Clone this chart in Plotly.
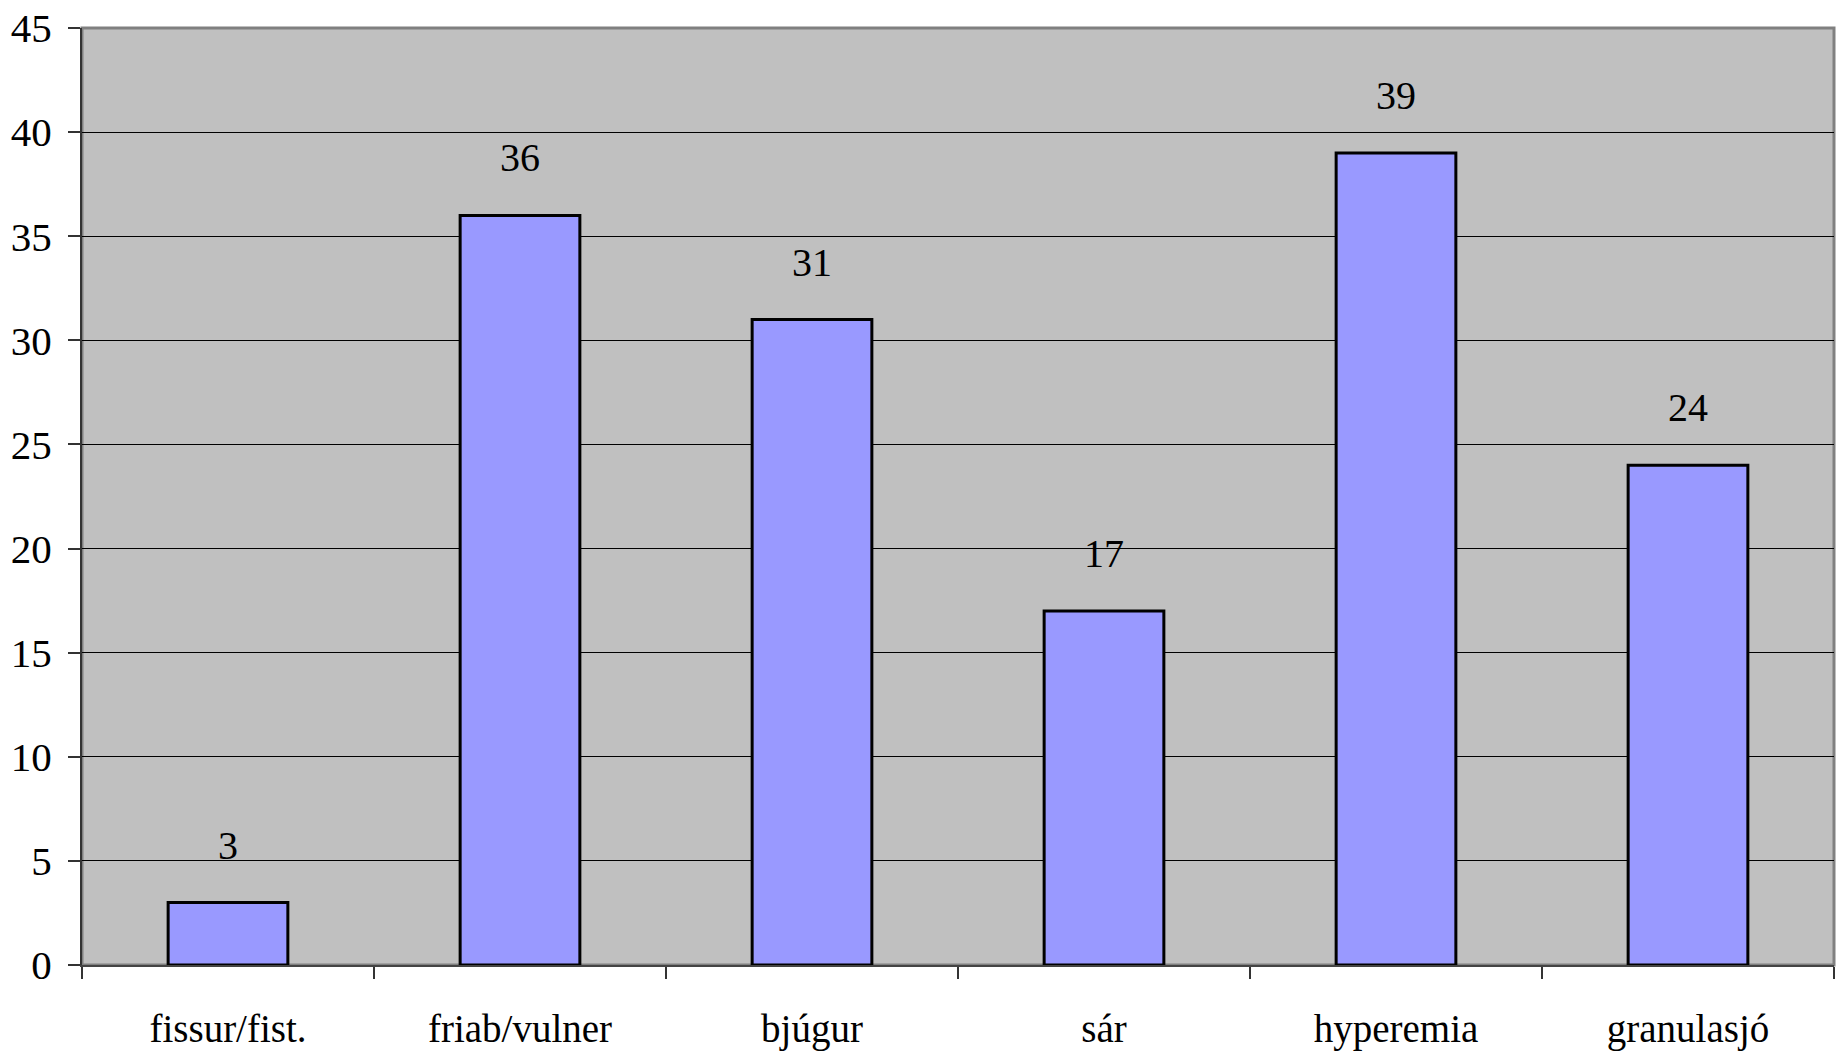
import plotly.graph_objects as go

categories = ["fissur/fist.", "friab/vulner", "bjúgur", "sár", "hyperemia", "granulasjó"]
values = [3, 36, 31, 17, 39, 24]
y_ticks = [0, 5, 10, 15, 20, 25, 30, 35, 40, 45]

FONT = "Liberation Serif"

fig = go.Figure()
fig.add_trace(go.Bar(
    x=categories, y=values,
    marker=dict(color="#9999FF", line=dict(color="black", width=3)),
    hoverinfo="skip",
))

for c, v in zip(categories, values):
    fig.add_annotation(x=c, y=v, text=str(v), showarrow=False,
                       yanchor="bottom", yshift=33,
                       font=dict(family=FONT, size=40, color="black"))

fig.add_shape(type="rect", xref="paper", yref="paper", x0=0, x1=1, y0=0, y1=1,
              line=dict(color="#808080", width=3), layer="below")

fig.update_layout(
    width=1839, height=1054,
    margin=dict(l=82, r=5, t=28, b=89, autoexpand=False),
    paper_bgcolor="white", plot_bgcolor="#C0C0C0",
    bargap=0.59, showlegend=False,
    font=dict(family=FONT, size=38, color="black"),
    xaxis=dict(type="category", tickson="boundaries", ticks="outside", ticklen=12,
               tickcolor="#333333", tickwidth=1.5, showline=True, linecolor="#444444",
               linewidth=2, showgrid=False, ticklabelstandoff=28, automargin=False,
               ticklabeloverflow="allow",
               tickfont=dict(family=FONT, size=39, color="black")),
    yaxis=dict(range=[0, 45], tickvals=y_ticks, ticks="outside", ticklen=12,
               tickcolor="#333333", tickwidth=1.5, showline=True, linecolor="#333333",
               linewidth=2, showgrid=True, gridcolor="black", gridwidth=1,
               zeroline=False, ticklabelstandoff=8, automargin=False,
               ticklabeloverflow="allow",
               tickfont=dict(family=FONT, size=41, color="black")),
)

fig.write_html("out.html", config={"displayModeBar": False},
               post_script="document.body.style.margin='0';document.body.style.overflow='hidden';")
